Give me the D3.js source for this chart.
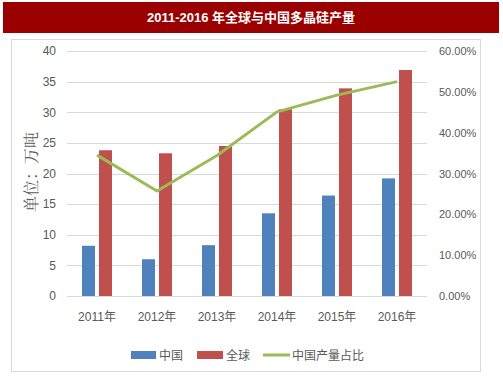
<!DOCTYPE html>
<html>
<head>
<meta charset="utf-8">
<script src="https://cdn.jsdelivr.net/npm/d3@7"></script>
<style>
  body { margin: 0; background: #fff; }
  svg text { font-family: "Liberation Sans", "Noto Sans CJK SC", sans-serif; }
</style>
</head>
<body>
<svg id="chart" width="503" height="378"></svg>
<script>
// data
var years = ["2011年", "2012年", "2013年", "2014年", "2015年", "2016年"];
var china = [8.2, 6.0, 8.3, 13.5, 16.4, 19.2];
var world = [23.8, 23.3, 24.5, 30.5, 33.9, 36.9];
var share = [0.345, 0.257, 0.344, 0.451, 0.492, 0.525];
var leftTicks = [0, 5, 10, 15, 20, 25, 30, 35, 40];
var rightTicks = [0, 0.1, 0.2, 0.3, 0.4, 0.5, 0.6];

var blue = "#4F81BD", red = "#C0504D", green = "#9BBB59", grey = "#595959";

var svg = d3.select("#chart");

// title bar
svg.append("rect").attr("x", 3).attr("y", 2).attr("width", 496).attr("height", 31).attr("fill", "#9B0000");
svg.append("text")
    .attr("x", 251).attr("y", 22)
    .attr("text-anchor", "middle")
    .attr("fill", "#fff")
    .style("font-weight", "bold")
    .style("font-size", "13px")
    .text("2011-2016 年全球与中国多晶硅产量");

// chart frame
svg.append("rect").attr("x", 11.5).attr("y", 39.5).attr("width", 469).attr("height", 332)
    .attr("fill", "none").attr("stroke", "#D9D9D9");

var x = d3.scaleBand().domain(years).range([67, 427]);
var y = d3.scaleLinear().domain([0, 40]).range([296, 51]);
var y2 = d3.scaleLinear().domain([0, 0.6]).range([296, 51]);

// gridlines
svg.append("g").selectAll("line")
    .data(leftTicks)
    .enter().append("line")
    .attr("x1", 67).attr("x2", 427)
    .attr("y1", function(d) { return Math.round(y(d)) + 0.5; })
    .attr("y2", function(d) { return Math.round(y(d)) + 0.5; })
    .attr("stroke", "#D9D9D9").attr("stroke-width", 1);

// left axis
var left = svg.append("g").attr("transform", "translate(67,0)")
    .call(d3.axisLeft(y).tickValues(leftTicks).tickSize(0).tickPadding(11));
left.select(".domain").remove();
left.selectAll("text").attr("fill", grey).style("font-size", "12px");

// right axis
var right = svg.append("g").attr("transform", "translate(427,0)")
    .call(d3.axisRight(y2).tickValues(rightTicks).tickSize(0).tickPadding(12).tickFormat(d3.format(".2%")));
right.select(".domain").remove();
right.selectAll("text").attr("fill", grey).style("font-size", "11px");

// x labels
var bottom = svg.append("g").attr("transform", "translate(0,296)")
    .call(d3.axisBottom(x).tickSize(0).tickPadding(16));
bottom.select(".domain").remove();
bottom.selectAll("text").attr("fill", grey).style("font-size", "12px");

// axis title
svg.append("text")
    .attr("transform", "translate(37,172) rotate(-90)")
    .attr("text-anchor", "middle")
    .attr("fill", grey)
    .style("font-family", "'Noto Serif CJK SC', 'Noto Sans CJK SC', serif")
    .style("font-size", "16px")
    .text("单位：万吨");

// bars
var barW = 13, gap = 4;
var bars = svg.append("g");
bars.selectAll(".cn")
    .data(china)
    .enter().append("rect")
    .attr("x", function(d, i) { return x(years[i]) + x.bandwidth() / 2 - gap / 2 - barW; })
    .attr("y", function(d) { return y(d); })
    .attr("width", barW)
    .attr("height", function(d) { return y(0) - y(d); })
    .attr("fill", blue);
bars.selectAll(".wd")
    .data(world)
    .enter().append("rect")
    .attr("x", function(d, i) { return x(years[i]) + x.bandwidth() / 2 + gap / 2; })
    .attr("y", function(d) { return y(d); })
    .attr("width", barW)
    .attr("height", function(d) { return y(0) - y(d); })
    .attr("fill", red);

// share line
var line = d3.line()
    .x(function(d, i) { return x(years[i]) + x.bandwidth() / 2; })
    .y(function(d) { return y2(d); });
svg.append("path")
    .datum(share)
    .attr("d", line)
    .attr("fill", "none")
    .attr("stroke", green)
    .attr("stroke-width", 3)
    .attr("stroke-linejoin", "round");

// legend
var lg = svg.append("g").style("font-size", "12px");
lg.append("rect").attr("x", 131).attr("y", 351).attr("width", 25).attr("height", 8).attr("fill", blue);
lg.append("text").attr("x", 159).attr("y", 360).attr("fill", grey).text("中国");
lg.append("rect").attr("x", 197).attr("y", 351).attr("width", 26).attr("height", 8).attr("fill", red);
lg.append("text").attr("x", 226).attr("y", 360).attr("fill", grey).text("全球");
lg.append("line").attr("x1", 263).attr("x2", 290).attr("y1", 355).attr("y2", 355)
    .attr("stroke", green).attr("stroke-width", 3);
lg.append("text").attr("x", 292).attr("y", 360).attr("fill", grey).text("中国产量占比");
</script>
</body>
</html>
